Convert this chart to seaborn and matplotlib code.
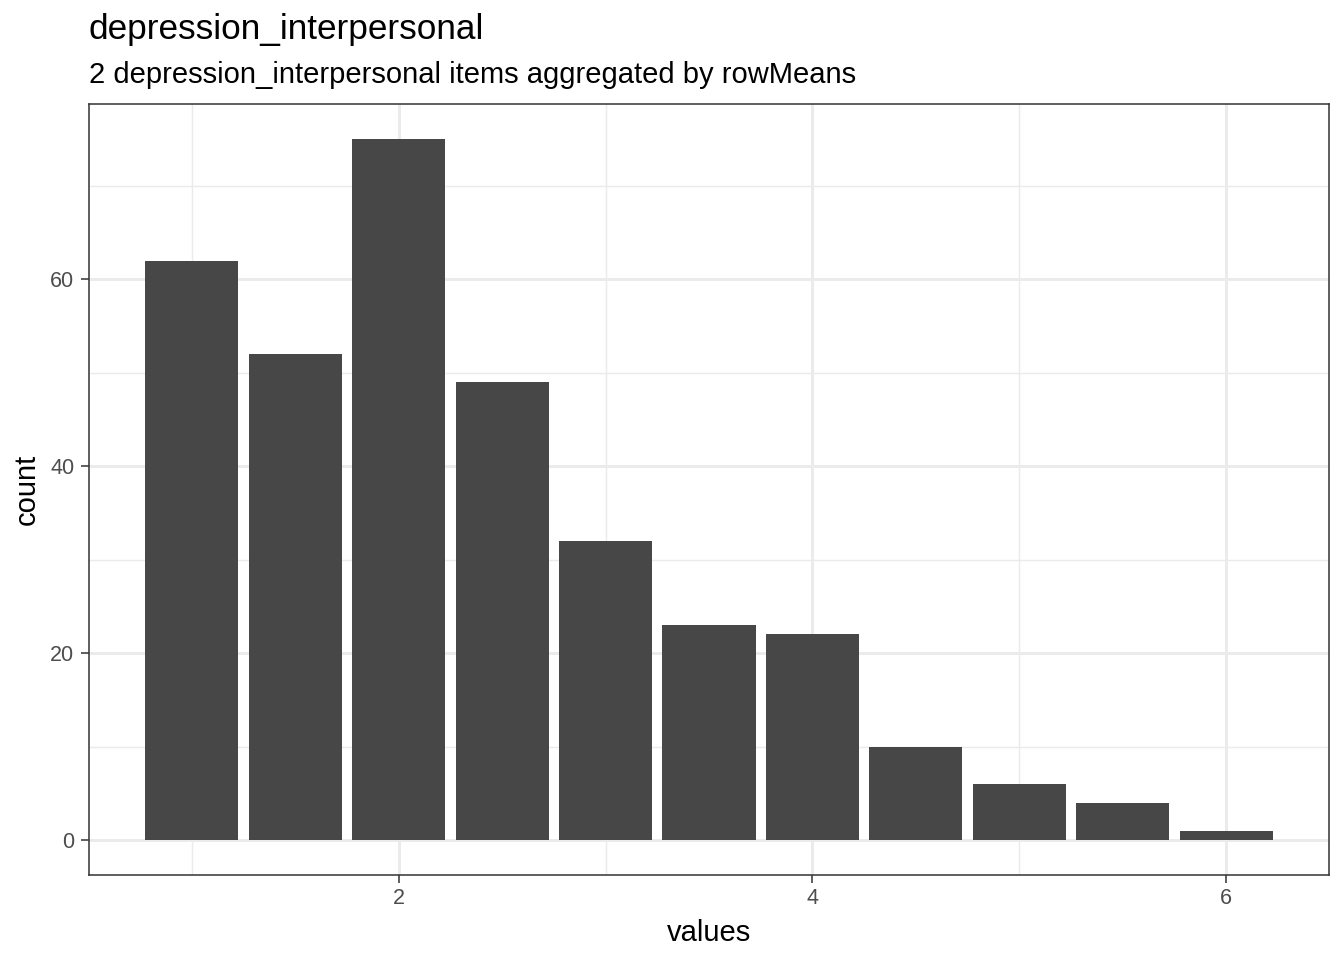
import numpy as np
import pandas as pd
import matplotlib
matplotlib.use("Agg")
import matplotlib.pyplot as plt
import seaborn as sns

# Data
values = [1.0, 1.5, 2.0, 2.5, 3.0, 3.5, 4.0, 4.5, 5.0, 5.5, 6.0]
counts = [62, 52, 75, 49, 32, 23, 22, 10, 6, 4, 1]

df = pd.DataFrame({"values": values, "count": counts})

sns.set_theme(style="white")
plt.rcParams["font.family"] = ["Liberation Sans", "DejaVu Sans"]

fig = plt.figure(figsize=(13.44, 9.6), dpi=100)
ax = fig.add_axes([89 / 1344, 1 - 875 / 960, (1329 - 89) / 1344, (875 - 104) / 960])

sns.barplot(data=df, x="values", y="count", native_scale=True, width=0.9,
            color="#474747", saturation=1, edgecolor="none", ax=ax, zorder=3)

ax.set_xlim(0.5025, 6.4975)
ax.set_ylim(-3.75, 78.75)
ax.set_xticks([2, 4, 6])
ax.set_xticks([1, 3, 5], minor=True)
ax.set_yticks([0, 20, 40, 60])
ax.set_yticks([10, 30, 50, 70], minor=True)
ax.grid(which="major", color="#EBEBEB", linewidth=2.1, zorder=0)
ax.grid(which="minor", color="#EBEBEB", linewidth=1.05, zorder=0)
ax.set_axisbelow(True)
for s in ax.spines.values():
    s.set_color("#333333")
    s.set_linewidth(1.1)
ax.tick_params(axis="both", which="major", labelsize=15.5, labelcolor="#4D4D4D",
               color="#333333", length=5.5, width=1.1, bottom=True, left=True)
ax.tick_params(axis="y", which="major", pad=5)
ax.tick_params(axis="x", which="major", pad=3.5)
ax.tick_params(axis="both", which="minor", length=0)
ax.set_xlabel("values", fontsize=21, color="black", labelpad=7.5)
ax.set_ylabel("count", fontsize=21, color="black", labelpad=7)

fig.text(89 / 1344, 1 - 30 / 960, "depression_interpersonal", fontsize=25.3,
         ha="left", va="center", color="black")
fig.text(89 / 1344, 1 - 75 / 960, "2 depression_interpersonal items aggregated by rowMeans",
         fontsize=21, ha="left", va="center", color="black")

fig.savefig("out.png", dpi=100)
